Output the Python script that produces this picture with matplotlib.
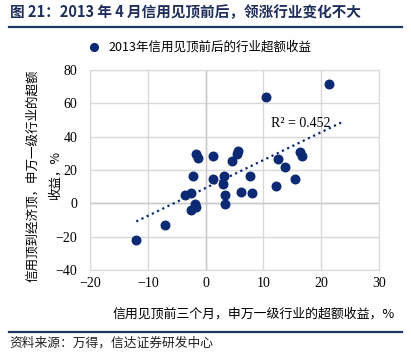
import numpy as np
import matplotlib
matplotlib.use("Agg")
import matplotlib.pyplot as plt

plt.rcParams['font.family'] = ['Noto Sans CJK SC', 'DejaVu Sans']

# industry excess returns, %
x_before = [21.4, 10.4, 16.3, 16.6, 12.5, 13.7, 15.4, 12.2, 5.6, 5.4, 4.5, 1.2,
            -1.7, -1.3, -2.1, 1.2, 3.2, 3.0, 7.7, 6.1, 8.1, 3.3, 3.4, -2.6,
            -3.5, -1.8, -1.7, -2.6, -7.1, -12.0]
y_after = [71.4, 63.6, 30.6, 28.6, 26.8, 21.6, 14.6, 10.4, 31.6, 29.6, 25.6, 28.4,
           29.4, 27.2, 16.2, 14.4, 16.4, 11.6, 16.6, 6.8, 6.2, 5.2, -0.6, 6.2,
           4.8, -0.4, -2.4, -4.0, -13.2, -21.8]
x_ticks = [-20, -10, 0, 10, 20, 30]
y_ticks = [-40, -20, 0, 20, 40, 60, 80]

navy = '#0B2A73'
serif = ['Liberation Serif', 'Noto Sans CJK SC']

fig = plt.figure(figsize=(4.11, 3.56), dpi=100)
ax = fig.add_axes([0.219, 0.2416, 0.703, 0.5618])

ax.scatter(x_before, y_after, s=38, color=navy, zorder=3,
           label='2013年信用见顶前后的行业超额收益')

# linear trend, extended a bit forward like the excel trendline
k, b = np.polyfit(x_before, y_after, 1)
xt = np.array([min(x_before), max(x_before) + 2.3])
ax.plot(xt, k * xt + b, linestyle=(0, (1, 1.6)), color=navy, lw=1.6, zorder=2)
ax.text(11.3, 48, 'R² = 0.452', fontsize=10, family=serif, ha='left', va='center')

ax.set_xlim(-20, 30)
ax.set_ylim(-40, 80)
ax.set_xticks(x_ticks)
ax.set_yticks(y_ticks)
ax.grid(True, color='#d9d9d9', lw=1.0)
ax.axhline(0, color='#c8c8c8', lw=1.0, zorder=1)
ax.axvline(0, color='#c8c8c8', lw=1.0, zorder=1)
ax.set_axisbelow(True)
for s in ax.spines.values():
    s.set_color('#d9d9d9')
ax.tick_params(length=0, labelsize=10, pad=5)
for lab in ax.get_xticklabels() + ax.get_yticklabels():
    lab.set_family(serif)
ax.tick_params(axis='y', pad=9)

# y label is two lines in the reference, drawn separately so the short
# second line sits between the tick labels
ax.text(-0.197, 0.47, '信用顶到经济顶，申万一级行业的超额', transform=ax.transAxes,
        rotation=90, fontsize=9, ha='center', va='center')
ax.text(-0.121, 0.47, '收益，%', transform=ax.transAxes,
        rotation=90, fontsize=9, ha='center', va='center')

ax.set_xlabel('信用见顶前三个月，申万一级行业的超额收益，%', fontsize=9.3)
ax.xaxis.set_label_coords(1.055, -0.19)
ax.xaxis.label.set_ha('right')

fig.legend(loc='center', bbox_to_anchor=(0.478, 0.868), frameon=False,
           fontsize=9, handletextpad=0.1, markerscale=0.9)

fig.text(0.024, 0.965, '图 21：2013 年 4 月信用见顶前后，领涨行业变化不大',
         fontsize=10.5, fontweight='bold', color='#1F2D5A', va='center')
fig.add_artist(plt.Line2D([0.022, 0.978], [0.925, 0.925], color='#1F3864', lw=1.6))
fig.add_artist(plt.Line2D([0.022, 0.978], [0.067, 0.067], color='#1F3864', lw=1.6))
fig.text(0.024, 0.035, '资料来源：万得，信达证券研发中心', fontsize=9.2,
         style='italic', color='#222222', va='center')

fig.savefig('out.png', dpi=100)
